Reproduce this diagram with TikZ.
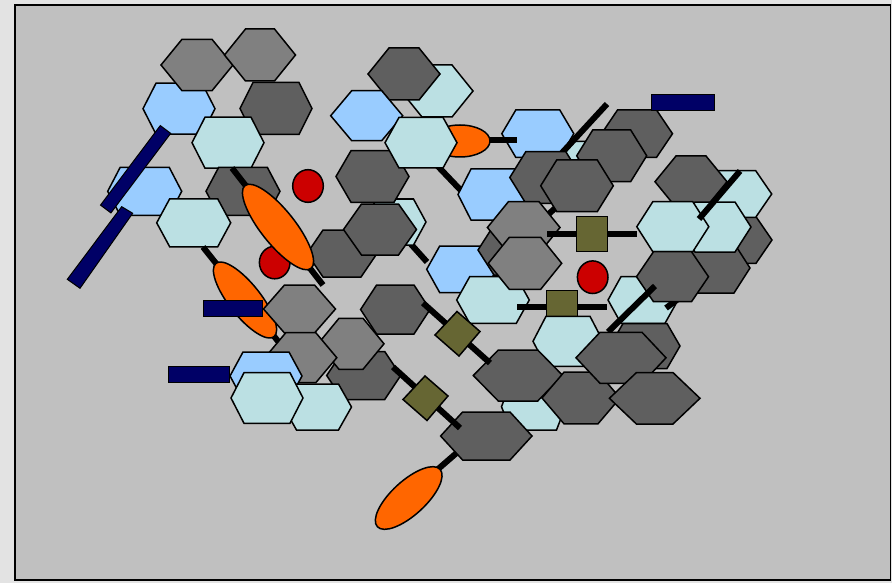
\documentclass[tikz,border=0pt]{standalone}
\definecolor{pgray}{HTML}{808080}
\definecolor{dgray}{HTML}{5F5F5F}
\definecolor{lblue}{HTML}{99CCFF}
\definecolor{lcyan}{HTML}{BBE0E3}
\definecolor{orng}{HTML}{FF6600}
\definecolor{rred}{HTML}{CC0000}
\definecolor{navy}{HTML}{000066}
\definecolor{olv}{HTML}{666633}
\definecolor{panel}{HTML}{C0C0C0}
\definecolor{outerbg}{HTML}{E3E3E3}
% hexagon: colour, cx, cy, half width, half height, slant
\newcommand\hx[6]{\filldraw[shp,fill=#1] ({#2-#4},{#3}) -- ({#2-#4+#6},{#3-#5}) -- ({#2+#4-#6},{#3-#5}) -- ({#2+#4},{#3}) -- ({#2+#4-#6},{#3+#5}) -- ({#2-#4+#6},{#3+#5}) -- cycle;}
\newcommand\dmd[2]{\filldraw[shp,fill=olv] ({#1-1},{#2-22}) -- ({#1+22},{#2-2}) -- ({#1+1},{#2+22.5}) -- ({#1-23},{#2+1.5}) -- cycle;}
\begin{document}
\begin{tikzpicture}[x=1pt,y=-1pt,
  shp/.style={draw=black,line width=1.5pt,line join=miter},
  conn/.style={draw=black,line width=6pt},
  rdot/.style={shp,fill=rred},
  oval/.style={shp,fill=orng},
  bar/.style={draw=black,line width=1pt,fill=navy},
  sq/.style={shp,fill=olv}]
\useasboundingbox (0,0) rectangle (892,583);
\fill[outerbg] (0,0) rectangle (892,583);
\filldraw[fill=panel,draw=black,line width=1.5pt] (15,5) rectangle (890.5,580);

% top-left cluster
\hx{lblue}{179}{108.7}{36}{25.5}{13}
\hx{pgray}{197}{65}{36}{25.7}{21}
\hx{pgray}{260}{55}{35.5}{26}{21}
\hx{dgray}{276}{108.5}{36}{26}{13}
\hx{lcyan}{228}{142.7}{36}{25.5}{13}
\hx{lblue}{144.7}{191.3}{37}{24}{12.5}
\hx{dgray}{243}{191.3}{37}{24}{12.7}
\draw[conn] (232,168) coordinate (l1a) -- (323,285) coordinate (l1b);
\hx{lcyan}{193.7}{222.8}{37}{24}{13}
\filldraw[bar] (121.7,206.7) -- (132.7,213.3) -- (80,288.3) -- (67.3,279.3) -- cycle;
\filldraw[bar] (170.7,133.4) -- (160.3,125.6) -- (100.5,205.1) -- (110.9,212.9) -- cycle;
\filldraw[rdot] (308,186) ellipse [x radius=15.3pt,y radius=16.3pt];
\filldraw[rdot] (274.7,262.5) ellipse [x radius=15.3pt,y radius=16.3pt];

% upper middle
\hx{lcyan}{577}{167}{36}{25.5}{13}
\hx{lblue}{537.8}{133.7}{36}{23.7}{14}
\draw[conn] (460,140) -- (517,140);
\draw[conn] (607,104) -- (560,155);
\filldraw[oval] (460,141) ellipse [x radius=30pt,y radius=16pt];
\hx{lcyan}{437}{91}{36}{26}{21}
\hx{dgray}{404}{74}{36}{26}{21}
\hx{lblue}{366.7}{115.7}{36}{25}{21}
\draw[conn] (400,232) -- (427,262);
\hx{lcyan}{395}{222}{31}{23}{12.5}
\hx{dgray}{372.5}{176.5}{36.5}{25.8}{15}
\draw[conn] (430,158) -- (470,200);
\hx{lcyan}{421}{142.7}{36}{25.3}{14}
\hx{lblue}{494}{194.5}{36}{25.5}{13}
\hx{dgray}{637}{133.7}{35.5}{23.7}{16}
\hx{dgray}{611.7}{155.8}{35}{25.8}{16}
\draw[conn] (575,190) -- (540,222);
\hx{dgray}{545.8}{177.5}{36}{25.8}{16}
\hx{dgray}{577}{185.8}{36.3}{25.8}{16}
\hx{dgray}{342}{253.5}{35}{23.5}{16}
\hx{dgray}{380}{229.5}{36.5}{25.5}{18}
\filldraw[oval,rotate around={-51.5:(278,227)}] (278,227) ellipse [x radius=53pt,y radius=17pt];

% lower left
\draw[conn] (203,247) -- (285,350);
\filldraw[oval,rotate around={-51.7:(245,300)}] (245,300) ellipse [x radius=46.8pt,y radius=16pt];
\hx{pgray}{299.5}{309}{36}{24}{21}
\filldraw[bar] (203.3,300) rectangle (262.7,316.7);
\filldraw[bar] (168.3,366.7) rectangle (229.3,382.7);
\hx{dgray}{395.3}{309.5}{34.7}{24.5}{16}
\hx{dgray}{363.7}{375.5}{37}{24}{16}
\hx{pgray}{351}{343.8}{33}{25.5}{21}
\hx{pgray}{300.8}{357.7}{36}{25}{21}
\hx{lblue}{266}{376}{36}{24}{13}
\hx{lcyan}{317.5}{407}{34}{23}{13}
\hx{lcyan}{267}{398}{36}{25.3}{13}

% centre
\hx{lblue}{461.7}{269.3}{35}{23.3}{13}
\hx{dgray}{514}{250}{36}{25}{16}
\hx{lcyan}{493}{300}{36.3}{23.3}{13}
\hx{pgray}{523.7}{227.5}{36.3}{25.8}{21}
\hx{pgray}{525}{263.3}{36.7}{26}{21}
\draw[conn] (547,234) -- (637,234);
\filldraw[sq] (576.7,216.7) rectangle (607.3,251.7);
\draw[conn] (517,306.7) -- (607,306.7);
\filldraw[sq] (546.7,290.7) rectangle (577.3,325);
\filldraw[rdot] (592.7,277.2) ellipse [x radius=15.3pt,y radius=16.3pt];

% right cluster
\hx{dgray}{736}{240}{36}{23.3}{16}
\hx{dgray}{714}{268}{36}{25}{16}
\hx{lcyan}{735.7}{194}{36}{23.3}{16}
\hx{dgray}{691}{181.7}{36}{25.7}{21}
\hx{lcyan}{715}{227}{36}{25}{16}
\hx{lcyan}{672.8}{226.7}{36}{25}{16}
\draw[conn] (740,171) -- (699,219);
\hx{lcyan}{643}{300}{35}{23.3}{13}
\draw[conn] (682,296) -- (666,308);
\hx{dgray}{672.5}{276.7}{36}{25}{17}
\draw[conn] (655,286) -- (608,332);
\hx{dgray}{645}{346}{35}{22.5}{13}

% bottom
\hx{lcyan}{568}{341.3}{35}{25}{13}
\hx{lcyan}{533.5}{406.7}{32}{23.3}{9}
\hx{dgray}{518}{375.5}{44.7}{25.5}{25}
\hx{dgray}{581}{398}{39}{25.8}{22}
\hx{dgray}{621}{357.8}{45}{25.5}{24}
\hx{dgray}{654.7}{398.3}{45.3}{25.7}{27}
\draw[conn] (437,470) -- (460,450);
\filldraw[oval,rotate around={42.5:(408.7,498)}] (408.7,498) ellipse [x radius=42.5pt,y radius=17pt];
\hx{dgray}{486.3}{436}{45.7}{24}{22}
\draw[conn] (423,303) -- (490,363);
\draw[conn] (393,367) -- (460,428);
\dmd{458}{333.5}
\dmd{426}{398}

\filldraw[bar] (651.7,94.7) rectangle (714,111);
\end{tikzpicture}
\end{document}
